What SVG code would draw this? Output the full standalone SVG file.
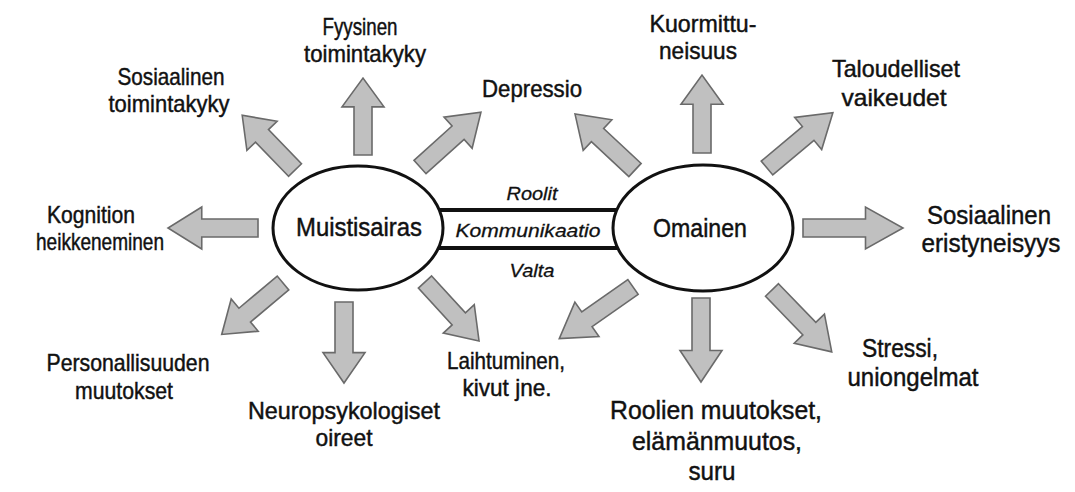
<svg xmlns="http://www.w3.org/2000/svg" xmlns:xlink="http://www.w3.org/1999/xlink" width="1075" height="492" viewBox="0 0 1075 492">
<style>
.bg{fill:#ffffff}
.node{fill:#ffffff;stroke:#111111;stroke-width:3}
.band{stroke:#111111;stroke-width:4}
.arr{fill:#c0c0c0;stroke:#6a6a6a;stroke-width:1.6;stroke-linejoin:miter}
text{font-family:"Liberation Sans",Arial,sans-serif;fill:#111111;text-anchor:middle;stroke:#111111;stroke-width:0.45}
.lbl{font-size:24px}
.big{font-size:26px}
.main{font-size:26px}
.rel{font-size:19px;font-style:italic;stroke-width:0.3}
</style>
<defs>
<path id="ba" class="arr" vector-effect="non-scaling-stroke" d="M0,-9 L50,-9 L50,-21 L80,0 L50,21 L50,9 L0,9 Z"/>
</defs>
<rect class="bg" x="0" y="0" width="1075" height="492"/>
<g id="connectors">
<line class="band" x1="436" y1="210" x2="620" y2="210"/>
<line class="band" x1="436" y1="248" x2="620" y2="248"/>
<use xlink:href="#ba" transform="translate(363,155) rotate(-90) scale(0.9625,1)"/>
<use xlink:href="#ba" transform="translate(295,170) rotate(-134) scale(0.95,1)"/>
<use xlink:href="#ba" transform="translate(420,167) rotate(-42) scale(1.025,1)"/>
<use xlink:href="#ba" transform="translate(258,228) rotate(180) scale(1.125,1)"/>
<use xlink:href="#ba" transform="translate(283,283) rotate(140) scale(1,1)"/>
<use xlink:href="#ba" transform="translate(344,302) rotate(90) scale(1.0125,1)"/>
<use xlink:href="#ba" transform="translate(425,282) rotate(47.5) scale(1,1)"/>
<use xlink:href="#ba" transform="translate(635,170) rotate(-137) scale(1.025,1)"/>
<use xlink:href="#ba" transform="translate(702,153) rotate(-90) scale(0.975,1)"/>
<use xlink:href="#ba" transform="translate(767,168) rotate(-40) scale(1.075,1)"/>
<use xlink:href="#ba" transform="translate(803,228) rotate(0) scale(1.25,1)"/>
<use xlink:href="#ba" transform="translate(633,287) rotate(145) scale(1.125,1)"/>
<use xlink:href="#ba" transform="translate(701,298) rotate(90) scale(1.05,1)"/>
<use xlink:href="#ba" transform="translate(772,290) rotate(46) scale(1.075,1)"/>
<text class="rel" x="532" y="200" textLength="51" lengthAdjust="spacingAndGlyphs">Roolit</text>
<text class="rel" x="528" y="237" textLength="145" lengthAdjust="spacingAndGlyphs">Kommunikaatio</text>
<text class="rel" x="532" y="277" textLength="45" lengthAdjust="spacingAndGlyphs">Valta</text>
</g>
<g id="muistisairas">
<ellipse class="node" cx="358" cy="228" rx="85" ry="62"/>
<text class="main" x="359" y="236" textLength="126" lengthAdjust="spacingAndGlyphs">Muistisairas</text>
</g>
<g id="omainen">
<ellipse class="node" cx="703" cy="228" rx="90" ry="63"/>
<text class="main" x="700" y="237" textLength="94" lengthAdjust="spacingAndGlyphs">Omainen</text>
</g>
<g id="fyysinen">
<text class="lbl" x="360" y="35" textLength="75" lengthAdjust="spacingAndGlyphs">Fyysinen</text>
<text class="lbl" x="365" y="62" textLength="122" lengthAdjust="spacingAndGlyphs">toimintakyky</text>
</g>
<g id="sosiaalinen-toimintakyky">
<text class="lbl" x="171" y="85" textLength="107" lengthAdjust="spacingAndGlyphs">Sosiaalinen</text>
<text class="lbl" x="169" y="112" textLength="121" lengthAdjust="spacingAndGlyphs">toimintakyky</text>
</g>
<g id="depressio">
<text class="lbl" x="532" y="97" textLength="100" lengthAdjust="spacingAndGlyphs">Depressio</text>
</g>
<g id="kuormittuneisuus">
<text class="lbl" x="703" y="32" textLength="107" lengthAdjust="spacingAndGlyphs">Kuormittu-</text>
<text class="lbl" x="698" y="59" textLength="78" lengthAdjust="spacingAndGlyphs">neisuus</text>
</g>
<g id="taloudelliset">
<text class="lbl" x="896" y="77" textLength="128" lengthAdjust="spacingAndGlyphs">Taloudelliset</text>
<text class="lbl" x="894" y="106" textLength="105" lengthAdjust="spacingAndGlyphs">vaikeudet</text>
</g>
<g id="kognition">
<text class="lbl" x="91" y="223" textLength="88" lengthAdjust="spacingAndGlyphs">Kognition</text>
<text class="lbl" x="100" y="250" textLength="128" lengthAdjust="spacingAndGlyphs">heikkeneminen</text>
</g>
<g id="sosiaalinen-eristyneisyys">
<text class="big" x="989" y="224" textLength="124" lengthAdjust="spacingAndGlyphs">Sosiaalinen</text>
<text class="big" x="991" y="252" textLength="139" lengthAdjust="spacingAndGlyphs">eristyneisyys</text>
</g>
<g id="personallisuuden">
<text class="lbl" x="128" y="371" textLength="163" lengthAdjust="spacingAndGlyphs">Personallisuuden</text>
<text class="lbl" x="124" y="399" textLength="98" lengthAdjust="spacingAndGlyphs">muutokset</text>
</g>
<g id="neuropsykologiset">
<text class="lbl" x="344" y="419" textLength="192" lengthAdjust="spacingAndGlyphs">Neuropsykologiset</text>
<text class="lbl" x="344" y="446" textLength="57" lengthAdjust="spacingAndGlyphs">oireet</text>
</g>
<g id="laihtuminen">
<text class="lbl" x="506" y="369" textLength="118" lengthAdjust="spacingAndGlyphs">Laihtuminen,</text>
<text class="lbl" x="507" y="396" textLength="89" lengthAdjust="spacingAndGlyphs">kivut jne.</text>
</g>
<g id="stressi">
<text class="big" x="900" y="357" textLength="76" lengthAdjust="spacingAndGlyphs">Stressi,</text>
<text class="big" x="913" y="386" textLength="131" lengthAdjust="spacingAndGlyphs">uniongelmat</text>
</g>
<g id="roolien">
<text class="big" x="716" y="419" textLength="212" lengthAdjust="spacingAndGlyphs">Roolien muutokset,</text>
<text class="big" x="717" y="450" textLength="170" lengthAdjust="spacingAndGlyphs">elämänmuutos,</text>
<text class="big" x="712" y="480" textLength="47" lengthAdjust="spacingAndGlyphs">suru</text>
</g>
</svg>
